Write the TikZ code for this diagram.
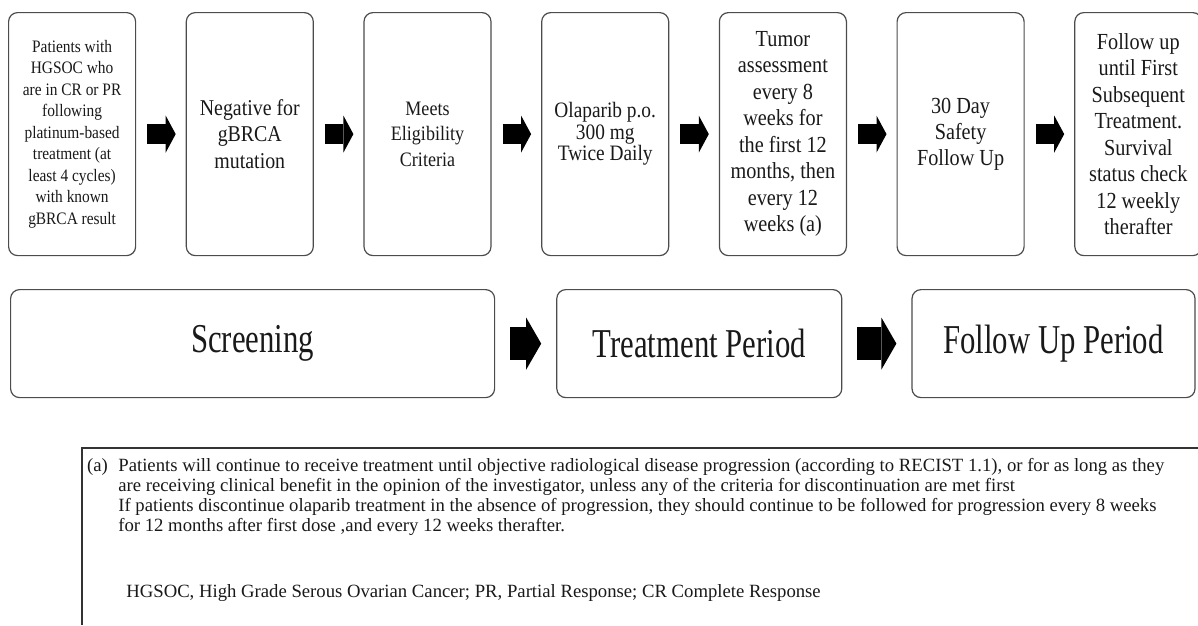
\documentclass[tikz,border=0pt]{standalone}
\usepackage{fontspec}
\setmainfont{Liberation Serif}
\newfontfamily\boxfont[FakeStretch=0.88]{Liberation Serif}
\newfontfamily\phasefont[FakeStretch=0.75]{Liberation Serif}
\usetikzlibrary{positioning,arrows.meta}

\begin{document}
\begin{tikzpicture}[x=1pt,y=-1pt,
			stage box/.style 2 args={draw=black!70,line width=1.2pt,rounded corners=9pt,minimum width=127pt,minimum height=243pt,inner sep=2pt,align=center,text=black!90,font=\boxfont\fontsize{#1}{#2}\selectfont},
			phase box/.style={draw=black!70,line width=1.2pt,rounded corners=9pt,minimum height=108pt,text=black!90,font=\phasefont\fontsize{41}{45}\selectfont},
			fat arrow/.style={line width=20pt,-{Triangle[length=10pt,width=37pt,line width=0pt]},shorten <=11pt,shorten >=10pt},
			big arrow/.style={line width=33pt,-{Triangle[length=15pt,width=52pt,line width=0pt]},shorten <=15pt,shorten >=15pt},
			note text/.style={inner sep=0pt,align=left,text=black!90,font=\fontsize{18.7}{20}\selectfont}
			]

			\def \gap {49.5pt};

			\useasboundingbox (0,0) rectangle (1198,625);

			% study steps
			\node[stage box={17.5}{21.5},anchor=north west] at (8,12) (s1) {Patients with\\HGSOC who\\are in CR or PR\\following\\platinum-based\\treatment (at\\least 4 cycles)\\with known\\gBRCA result};
			\node[stage box={22.6}{26.5},right=\gap of s1] (s2) {Negative for\\gBRCA\\mutation};
			\node[stage box={20.5}{25.5},right=\gap of s2] (s3) {Meets\\Eligibility\\Criteria};
			\node[stage box={22}{21.5},right=\gap of s3] (s4) {Olaparib p.o.\\300 mg\\Twice Daily};
			\node[stage box={23}{26.5},right=\gap of s4] (s5) {Tumor\\assessment\\every 8\\weeks for\\the first 12\\months, then\\every 12\\weeks (a)};
			\node[stage box={23}{26},right=\gap of s5] (s6) {30 Day\\Safety\\Follow Up};
			\node[stage box={23}{26.5},right=\gap of s6] (s7) {Follow up\\until First\\Subsequent\\Treatment.\\Survival\\status check\\12 weekly\\therafter};

			\draw[fat arrow] (s1) -- (s2);
			\draw[fat arrow] (s2) -- (s3);
			\draw[fat arrow] (s3) -- (s4);
			\draw[fat arrow] (s4) -- (s5);
			\draw[fat arrow] (s5) -- (s6);
			\draw[fat arrow] (s6) -- (s7);

			% periods
			\node[phase box,minimum width=484pt,anchor=north west] at (10,289) (screen) {Screening};
			\node[phase box,minimum width=285pt,right=61pt of screen] (treat) {Treatment Period};
			\node[phase box,minimum width=283pt,right=69pt of treat] (follow) {Follow Up Period};

			\draw[big arrow] (screen) -- (treat);
			\draw[big arrow] (treat) -- (follow);

			% footnote
			\draw[black!80,line width=1.2pt] (82,625) -- (82,448) -- (1198,448);
			\node[note text,anchor=north west] at (87,458) (tag) {(a)};
			\node[note text,right=10pt of tag.north east,anchor=north west] (note) {Patients will continue to receive treatment until objective radiological disease progression (according to RECIST 1.1), or for as long as they\\
				are receiving clinical benefit in the opinion of the investigator, unless any of the criteria for discontinuation are met first\\
				If patients discontinue olaparib treatment in the absence of progression, they should continue to be followed for progression every 8 weeks\\
				for 12 months after first dose ,and every 12 weeks therafter.\\[46pt]
				\hspace*{8pt}HGSOC, High Grade Serous Ovarian Cancer; PR, Partial Response; CR Complete Response};
		\end{tikzpicture}
\end{document}
